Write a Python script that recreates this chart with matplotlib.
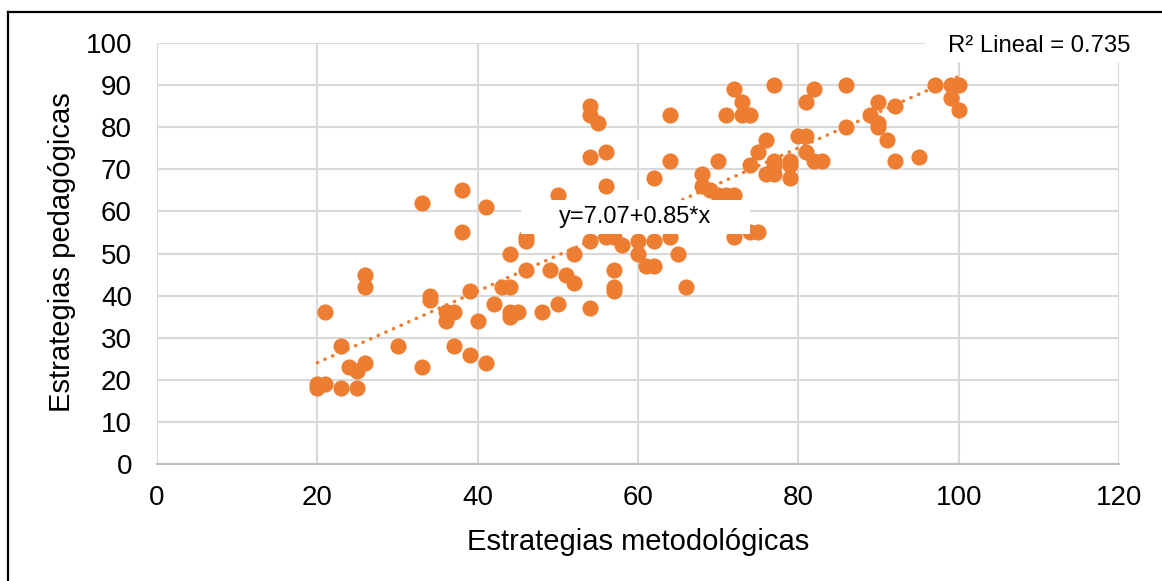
import matplotlib
matplotlib.use("Agg")
import matplotlib.pyplot as plt
from matplotlib.lines import Line2D
from matplotlib.patches import Rectangle
import numpy as np

plt.rcParams['font.family'] = ['Liberation Sans', 'DejaVu Sans']

# Data
x_metodologicas = [20, 20, 21, 21, 23, 23, 24, 25, 25, 26, 26, 26, 30, 33, 33, 34, 34, 36, 36, 37,
                   37, 38, 38, 39, 39, 40, 41, 41, 42, 43, 44, 44, 44, 44, 45, 46, 46, 46, 48, 49,
                   50, 50, 51, 52, 52, 54, 54, 54, 54, 54, 55, 56, 56, 56, 57, 57, 57, 57, 58, 60,
                   60, 61, 62, 62, 62, 64, 64, 64, 65, 66, 68, 68, 69, 70, 70, 71, 71, 72, 72, 72,
                   73, 73, 74, 74, 74, 75, 75, 76, 76, 77, 77, 77, 77, 79, 79, 79, 80, 81, 81, 81,
                   82, 82, 83, 86, 86, 89, 90, 90, 90, 91, 92, 92, 95, 97, 99, 99, 100, 100]
y_pedagogicas = [19, 18, 19, 36, 28, 18, 23, 22, 18, 24, 45, 42, 28, 62, 23, 40, 39, 36, 34, 36,
                 28, 65, 55, 41, 26, 34, 61, 24, 38, 42, 42, 36, 35, 50, 36, 46, 53, 54, 36, 46,
                 64, 38, 45, 43, 50, 85, 83, 73, 53, 37, 81, 74, 66, 54, 54, 46, 42, 41, 52, 50,
                 53, 47, 68, 47, 53, 54, 83, 72, 50, 42, 69, 66, 65, 64, 72, 83, 64, 89, 64, 54,
                 86, 83, 83, 71, 55, 74, 55, 77, 69, 90, 72, 71, 69, 72, 71, 68, 78, 86, 78, 74,
                 89, 72, 72, 90, 80, 83, 86, 81, 80, 77, 85, 72, 73, 90, 90, 87, 90, 84]

intercept = 7.07
slope = 0.85
r2 = 0.735
x_ticks = [0, 20, 40, 60, 80, 100, 120]
y_ticks = [0, 10, 20, 30, 40, 50, 60, 70, 80, 90, 100]

ORANGE = '#ED7D31'
GRID = '#D9D9D9'

W, H = 1162, 581
fig = plt.figure(figsize=(W / 100, H / 100), dpi=100)
ax = fig.add_axes([157 / W, 1 - 464 / H, (1119 - 157) / W, (464 - 43) / H])

ax.scatter(x_metodologicas, y_pedagogicas, s=135, color=ORANGE, linewidths=0, zorder=3)

tx = np.array([min(x_metodologicas), max(x_metodologicas)])
ax.plot(tx, intercept + slope * tx, color=ORANGE, lw=2.5, linestyle=(0, (0.1, 2.3)),
        dash_capstyle='round', zorder=4)

ax.set_xlim(0, 120)
ax.set_ylim(0, 100)
ax.set_xticks(x_ticks)
ax.set_yticks(y_ticks)
ax.grid(True, color=GRID, lw=1.5, zorder=0)
ax.set_axisbelow(True)
for side in ['top', 'right', 'left']:
    ax.spines[side].set_visible(False)
ax.spines['bottom'].set_color('#BFBFBF')
ax.spines['bottom'].set_linewidth(1.5)
ax.tick_params(length=0, labelsize=20, colors='black')
ax.tick_params(axis='y', pad=18)
ax.tick_params(axis='x', pad=15)

# Equation label with white box
ax.add_patch(Rectangle((45.4, 54.6), 74.0 - 45.4, 62.7 - 54.6, facecolor='white',
                       edgecolor='none', zorder=5, clip_on=False))
ax.text(59.7, 58.7, 'y=7.07+0.85*x', ha='center', va='center', fontsize=17, zorder=6)

# R^2 label with white box
ax.add_patch(Rectangle((95.8, 95.5), 124.0 - 95.8, 104.5 - 95.5, facecolor='white',
                       edgecolor='none', zorder=5, clip_on=False))
ax.text(110.0, 99.2, 'R² Lineal = 0.735', ha='center', va='center', fontsize=17.2, zorder=6,
        clip_on=False)

fig.text(638 / W, 1 - 542 / H, 'Estrategias metodológicas', ha='center', va='center', fontsize=21)
fig.text(62 / W, 1 - 252 / H, 'Estrategias pedagógicas', ha='center', va='center',
         rotation=90, fontsize=21)

# Outer frame (top and left edges visible)
fig.add_artist(Line2D([8 / W, 1.0], [1 - 12 / H, 1 - 12 / H], color='black', lw=1.6,
                      transform=fig.transFigure))
fig.add_artist(Line2D([8 / W, 8 / W], [1 - 12 / H, 0.0], color='black', lw=1.6,
                      transform=fig.transFigure))

fig.savefig('out.png', dpi=100)
